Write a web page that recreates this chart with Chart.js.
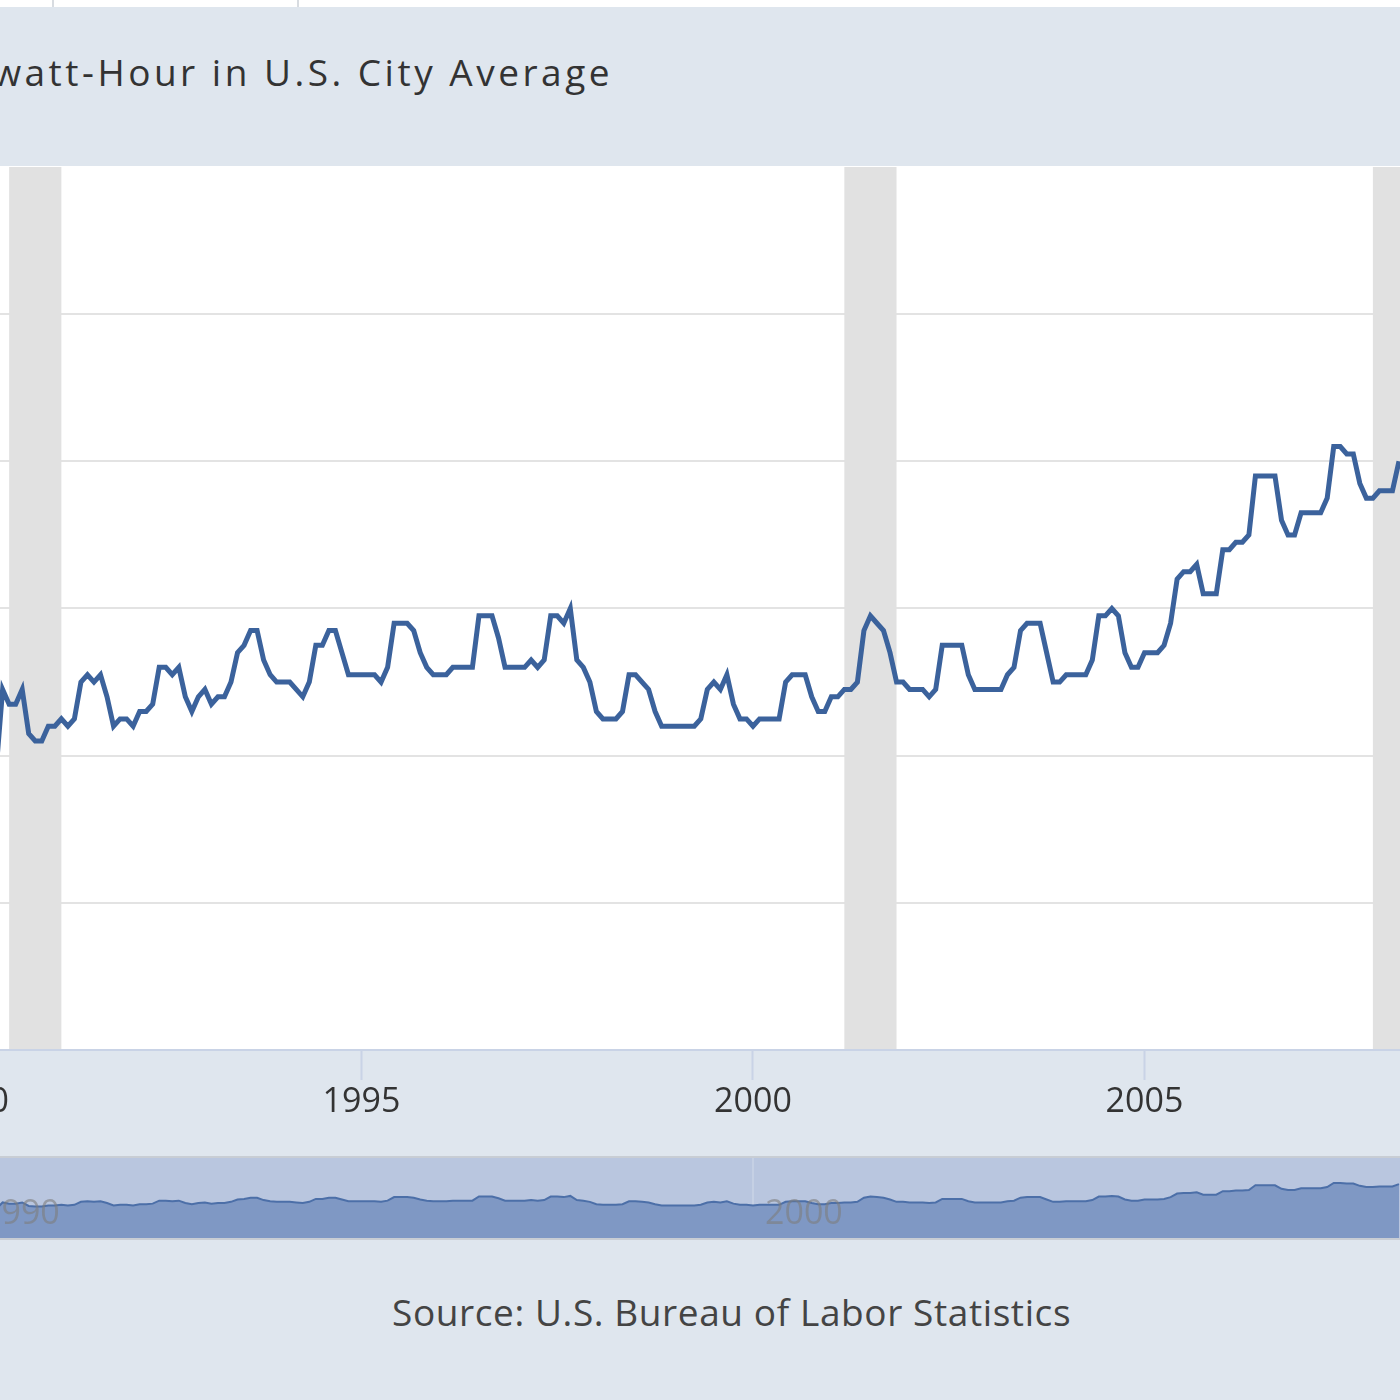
<!DOCTYPE html>
<html>
<head>
<meta charset="utf-8">
<title>Average Price: Electricity per Kilowatt-Hour in U.S. City Average</title>
<script src="https://cdn.jsdelivr.net/npm/chart.js@4.4.1/dist/chart.umd.min.js"></script>
<style>
  html, body { margin:0; padding:0; width:1400px; height:1400px; overflow:hidden; background:#dfe6ee; font-family:"Open Sans", sans-serif; }
  #topStrip { position:absolute; left:0; top:0; width:1400px; height:7px; background:#fff; }
  .stripEdge { position:absolute; top:0; width:2px; height:7px; background:#d8dce1; }
  #title { position:absolute; right:787px; top:53px; white-space:nowrap; font-size:37px; line-height:37px; letter-spacing:3.5px; color:#333; }
  #mainWrap { position:absolute; left:-120px; top:166px; width:1640px; height:989px; }
  #navWrap { position:absolute; left:-120px; top:1156px; width:1640px; height:84px; box-sizing:border-box; border-top:2px solid #c8cdd4; border-bottom:2px solid #c8cdd4; }
  #source { position:absolute; left:392px; top:1293px; white-space:nowrap; font-size:37px; line-height:37px; letter-spacing:0.6px; color:#444; }
</style>
</head>
<body>
<div id="topStrip"></div>
<div class="stripEdge" style="left:52px"></div>
<div class="stripEdge" style="left:297px"></div>
<div id="title">Average Price: Electricity per Kilowatt-Hour in U.S. City Average</div>
<div id="mainWrap"><canvas id="mainChart" width="1640" height="989"></canvas></div>
<div id="navWrap"><canvas id="navChart" width="1640" height="80"></canvas></div>
<div id="source">Source: U.S. Bureau of Labor Statistics</div>

<script>
/* ---- data: U.S. city average, $ per kWh, monthly ---- */
const firstYear  = 1990;
const firstMonth = 4;            // May 1990 (0 = January)
const price1990 = [0.078, 0.089, 0.087, 0.087, 0.089, 0.083, 0.082, 0.082];
const price1991 = [0.084, 0.084, 0.085, 0.084, 0.085, 0.090, 0.091, 0.090, 0.091, 0.088, 0.084, 0.085];
const price1992 = [0.085, 0.084, 0.086, 0.086, 0.087, 0.092, 0.092, 0.091, 0.092, 0.088, 0.086, 0.088];
const price1993 = [0.089, 0.087, 0.088, 0.088, 0.090, 0.094, 0.095, 0.097, 0.097, 0.093, 0.091, 0.090];
const price1994 = [0.090, 0.090, 0.089, 0.088, 0.090, 0.095, 0.095, 0.097, 0.097, 0.094, 0.091, 0.091];
const price1995 = [0.091, 0.091, 0.091, 0.090, 0.092, 0.098, 0.098, 0.098, 0.097, 0.094, 0.092, 0.091];
const price1996 = [0.091, 0.091, 0.092, 0.092, 0.092, 0.092, 0.099, 0.099, 0.099, 0.096, 0.092, 0.092];
const price1997 = [0.092, 0.092, 0.093, 0.092, 0.093, 0.099, 0.099, 0.098, 0.100, 0.093, 0.092, 0.090];
const price1998 = [0.086, 0.085, 0.085, 0.085, 0.086, 0.091, 0.091, 0.090, 0.089, 0.086, 0.084, 0.084];
const price1999 = [0.084, 0.084, 0.084, 0.084, 0.085, 0.089, 0.090, 0.089, 0.091, 0.087, 0.085, 0.085];
const price2000 = [0.084, 0.085, 0.085, 0.085, 0.085, 0.090, 0.091, 0.091, 0.091, 0.088, 0.086, 0.086];
const price2001 = [0.088, 0.088, 0.089, 0.089, 0.090, 0.097, 0.099, 0.098, 0.097, 0.094, 0.090, 0.090];
const price2002 = [0.089, 0.089, 0.089, 0.088, 0.089, 0.095, 0.095, 0.095, 0.095, 0.091, 0.089, 0.089];
const price2003 = [0.089, 0.089, 0.089, 0.091, 0.092, 0.097, 0.098, 0.098, 0.098, 0.094, 0.090, 0.090];
const price2004 = [0.091, 0.091, 0.091, 0.091, 0.093, 0.099, 0.099, 0.100, 0.099, 0.094, 0.092, 0.092];
const price2005 = [0.094, 0.094, 0.094, 0.095, 0.098, 0.104, 0.105, 0.105, 0.106, 0.102, 0.102, 0.102];
const price2006 = [0.108, 0.108, 0.109, 0.109, 0.110, 0.118, 0.118, 0.118, 0.118, 0.112, 0.110, 0.110];
const price2007 = [0.113, 0.113, 0.113, 0.113, 0.115, 0.122, 0.122, 0.121, 0.121, 0.117, 0.115, 0.115];
const price2008 = [0.116, 0.116, 0.116, 0.120];

// recession shading (decimal years, start/end)
const recessions = [[1990.5, 1991.1667], [2001.1667, 2001.8333], [2007.9167, 2009.5]];

const xTicks    = [1990, 1995, 2000, 2005];
const navTicks  = [1990, 2000];
const yTicks    = [0.04, 0.06, 0.08, 0.10, 0.12, 0.14, 0.16];

const allPrices = [].concat(price1990, price1991, price1992, price1993, price1994, price1995,
  price1996, price1997, price1998, price1999, price2000, price2001, price2002, price2003,
  price2004, price2005, price2006, price2007, price2008);
const points = allPrices.map((v, i) => ({ x: firstYear + (firstMonth + i) / 12, y: v }));

const X_MIN = 1988.8506, X_MAX = 2009.7957;
const LINE = '#3b629c';

Chart.defaults.font.family = '"Open Sans", sans-serif';

const plotBackground = {
  id: 'plotBackground',
  beforeDraw(chart, args, opts) {
    const { ctx, chartArea } = chart;
    ctx.save();
    ctx.fillStyle = opts.color;
    ctx.fillRect(chartArea.left, opts.fromTop ? 0 : chartArea.top, chartArea.width,
      chartArea.bottom - (opts.fromTop ? 0 : chartArea.top));
    ctx.restore();
  }
};

const recessionBands = {
  id: 'recessionBands',
  beforeDatasetsDraw(chart) {
    const { ctx, chartArea, scales } = chart;
    ctx.save();
    ctx.beginPath();
    ctx.rect(chartArea.left, chartArea.top, chartArea.width, chartArea.height);
    ctx.clip();
    ctx.fillStyle = '#e1e1e1';
    recessions.forEach(([a, b]) => {
      const x0 = scales.x.getPixelForValue(a);
      const x1 = scales.x.getPixelForValue(b);
      ctx.fillRect(x0, 0, x1 - x0, chartArea.bottom - 1);
    });
    ctx.restore();
  }
};

// year labels inside the navigator, drawn at the scale's tick positions
const navLabels = {
  id: 'navLabels',
  afterDatasetsDraw(chart) {
    const { ctx, scales } = chart;
    ctx.save();
    ctx.font = '34px "Open Sans", sans-serif';
    ctx.fillStyle = 'rgba(125,125,125,0.6)';
    ctx.textAlign = 'left';
    ctx.textBaseline = 'middle';
    scales.x.ticks.forEach(t => {
      ctx.fillText(String(t.value), scales.x.getPixelForValue(t.value) + 12, 56);
    });
    ctx.restore();
  }
};

// main chart
new Chart(document.getElementById('mainChart'), {
  type: 'line',
  data: {
    datasets: [{
      data: points,
      borderColor: LINE,
      borderWidth: 5,
      pointRadius: 0,
      tension: 0,
      borderJoinStyle: 'miter',
      fill: false
    }]
  },
  options: {
    responsive: false,
    animation: false,
    devicePixelRatio: 1,
    layout: { padding: { top: 1, left: 0, right: 0, bottom: 0 } },
    plugins: {
      legend: { display: false },
      tooltip: { enabled: false },
      plotBackground: { color: '#ffffff', fromTop: true }
    },
    scales: {
      x: {
        type: 'linear',
        min: X_MIN, max: X_MAX,
        afterBuildTicks: s => { s.ticks = xTicks.map(v => ({ value: v })); },
        afterFit: s => { s.height = 105; },
        grid: { drawOnChartArea: false, drawTicks: true, tickLength: 30, tickWidth: 2, tickColor: '#c9d3e6' },
        border: { display: true, color: '#c9d3e6', width: 2 },
        ticks: {
          autoSkip: false, maxRotation: 0, padding: 2,
          color: '#333', font: { size: 34 },
          callback: v => String(v)
        }
      },
      y: {
        min: 0.04, max: 0.16,
        afterBuildTicks: s => { s.ticks = yTicks.map(v => ({ value: v })); },
        afterFit: s => { s.width = 0; },
        grid: {
          drawTicks: false, lineWidth: 2,
          color: c => (c.tick && c.tick.value > 0.155) ? 'rgba(0,0,0,0)' : '#e3e3e3'
        },
        border: { display: false },
        ticks: { display: false }
      }
    }
  },
  plugins: [plotBackground, recessionBands]
});

// navigator strip
new Chart(document.getElementById('navChart'), {
  type: 'line',
  data: {
    datasets: [{
      data: points,
      borderColor: '#4c6fa8',
      borderWidth: 2,
      pointRadius: 0,
      tension: 0,
      fill: 'start',
      backgroundColor: '#7f98c4'
    }]
  },
  options: {
    responsive: false,
    animation: false,
    devicePixelRatio: 1,
    layout: { padding: 0 },
    plugins: {
      legend: { display: false },
      tooltip: { enabled: false },
      plotBackground: { color: '#b9c6df', fromTop: false }
    },
    scales: {
      x: {
        type: 'linear',
        min: X_MIN, max: X_MAX,
        afterBuildTicks: s => { s.ticks = navTicks.map(v => ({ value: v })); },
        afterFit: s => { s.height = 0; },
        grid: { drawTicks: false, color: 'rgba(255,255,255,0.18)', lineWidth: 2 },
        border: { display: false },
        ticks: { display: false }
      },
      y: {
        display: false,
        min: 0.029, max: 0.164
      }
    }
  },
  plugins: [plotBackground, navLabels]
});
</script>
</body>
</html>
